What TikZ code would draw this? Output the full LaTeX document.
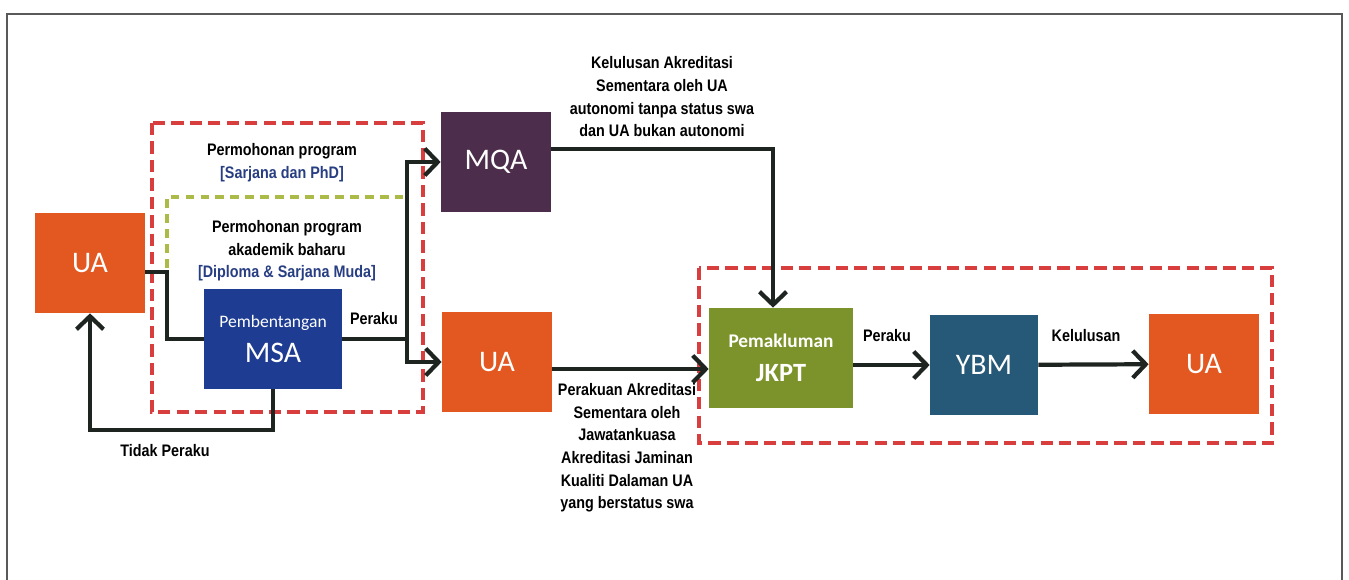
\documentclass[tikz,border=0pt]{standalone}
\usepackage{fontspec}
\setmainfont{Carlito}
\newfontfamily\lblfont[FakeStretch=0.86]{Liberation Sans Bold}
\usetikzlibrary{arrows.meta, calc, positioning}
\definecolor{uaorange}{RGB}{226,88,32}
\definecolor{msablue}{RGB}{30,60,145}
\definecolor{mqapurple}{RGB}{76,46,76}
\definecolor{jkptgreen}{RGB}{124,146,42}
\definecolor{ybmblue}{RGB}{38,88,120}
\definecolor{dashred}{RGB}{216,62,62}
\definecolor{dashgreen}{RGB}{172,186,72}
\definecolor{textblue}{RGB}{40,62,130}
\definecolor{linkgray}{RGB}{30,36,32}

\begin{document}
\begin{tikzpicture}[x=0.02cm, y=-0.02cm,
  > = {Straight Barb[length=2.6mm, width=5.4mm]},
  box/.style = {minimum width=2.2cm, minimum height=2cm, inner sep=0pt, text=white, align=center, font=\fontsize{17}{20}\selectfont},
  link/.style = {line width=2.4pt, draw=linkgray},
  arrow/.style = {link, ->},
  lbl/.style = {font=\lblfont\fontsize{9.5}{12.9}\selectfont, align=center, inner sep=0pt},
  reddash/.style = {draw=dashred, line width=2.2pt, dash pattern=on 7pt off 3.5pt}
]
  \useasboundingbox (0,0) rectangle (1349,580);
  \draw[black!65, line width=0.8pt] (7,580) -- (7,14) -- (1342,14) -- (1342,580);

  % dashed groups
  \draw[reddash] (152,123) rectangle (423,412);
  \draw[reddash] (699,268) rectangle (1272,443);
  \draw[draw=dashgreen, line width=2.2pt, dash pattern=on 5pt off 3.5pt] (167,268) -- (167,197) -- (405,197);

  \node[box, fill=uaorange] (ua) at (90,263) {UA};
  \node[box, fill=msablue, minimum width=2.76cm] (msa) at (273,339) {{\fontsize{10}{12}\selectfont Pembentangan}\\MSA};
  \node[box, fill=mqapurple] (mqa) at (496,162) {MQA};
  \node[box, fill=uaorange] (uamid) at (497,362) {UA};
  \node[box, fill=jkptgreen, minimum width=2.88cm, font=\bfseries\fontsize{15}{19}\selectfont] (jkpt) at (781,358) {{\fontsize{11}{13}\selectfont Pemakluman}\\JKPT};
  \node[box, fill=ybmblue, minimum width=2.16cm] (ybm) at (984,365) {YBM};
  \node[box, fill=uaorange] (uaend) at (1204,364) {UA};

  \node[lbl] (sarjana) at (282,163) {Permohonan program\\\textcolor{textblue}{[Sarjana dan PhD]}};
  \node[lbl] (diploma) at (287,251) {Permohonan program\\akademik baharu\\\textcolor{textblue}{[Diploma \& Sarjana Muda]}};
  \node[lbl] (perakumsa) at (374,319) {Peraku};
  \node[lbl] (tidak) at (165,451) {Tidak Peraku};
  \node[lbl] (lulusmqa) at (662,97) {Kelulusan Akreditasi\\Sementara oleh UA\\autonomi tanpa status swa\\dan UA bukan autonomi};
  \node[lbl] (perakuanua) at (627,448) {Perakuan Akreditasi\\Sementara oleh\\Jawatankuasa\\Akreditasi Jaminan\\Kualiti Dalaman UA\\yang berstatus swa};
  \node[lbl] (perakujkpt) at (887,336) {Peraku};
  \node[lbl] (lulus) at (1086,336) {Kelulusan};

  % connectors
  \coordinate (split) at (407,339);
  \coordinate (uaout) at ($(uamid.east)+(0,7)$);
  \draw[link] ($(ua.east)+(0,9)$) -| ($(msa.west)+(-37,0)$) -- (msa.west);
  \draw[arrow] (msa.south) -- ++(0,41) -| (ua.south);
  \draw[link] (msa.east) -- (split);
  \draw[arrow] (split) |- (mqa.west);
  \draw[arrow] (split) |- (uamid.west);
  \draw[arrow] ($(mqa.east)+(0,-13)$) -| ($(jkpt.north)+(-8,0)$);
  \draw[arrow] (uaout) -- (uaout -| jkpt.west);
  \draw[arrow] (jkpt.east |- ybm.west) -- (ybm.west);
  \draw[arrow] (ybm) -- (uaend);
\end{tikzpicture}
\end{document}
